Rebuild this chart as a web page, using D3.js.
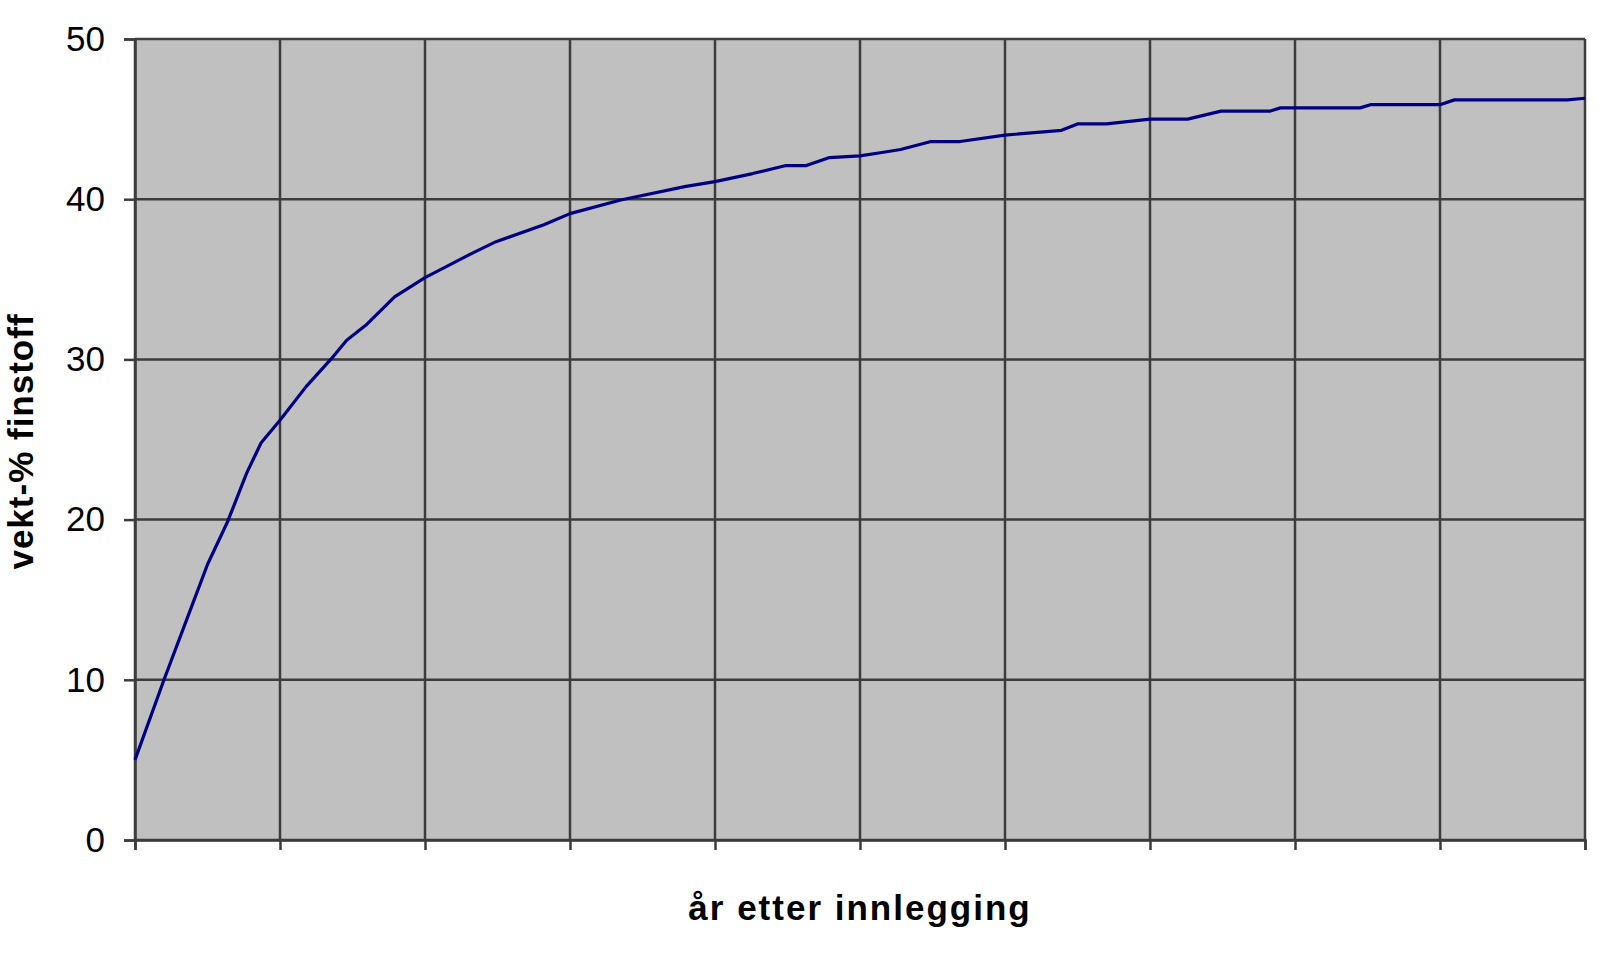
<!DOCTYPE html>
<html>
<head>
<meta charset="utf-8">
<script src="https://cdn.jsdelivr.net/npm/d3@7"></script>
<style>
  html, body { margin: 0; padding: 0; background: #fff; }
  svg { display: block; }
</style>
</head>
<body>
<svg id="chart" width="1600" height="960"></svg>
<script>
// x in grid units (each vertical gridline = 10), values in vekt-% finstoff
const years = [0, 2, 4, 5, 6.4, 7.7, 8.7, 10, 11.8, 13.5, 14.6, 16, 17.9, 20, 23.2, 24.9, 28.2, 30, 33.5, 38, 40, 42.6, 44.9, 46.3, 47.9, 50, 51.4, 52.8, 54.9, 56.9, 60, 63.9, 65, 67, 70, 72.6, 74.9, 78.3, 79, 84.5, 85.2, 90, 91, 98.8, 100];
const finstoff = [5.0, 10.0, 14.8, 17.2, 19.9, 22.9, 24.8, 26.2, 28.3, 30.0, 31.2, 32.2, 33.9, 35.1, 36.6, 37.35, 38.4, 39.1, 39.95, 40.8, 41.1, 41.6, 42.1, 42.1, 42.6, 42.7, 42.9, 43.1, 43.6, 43.6, 44.0, 44.3, 44.7, 44.7, 45.0, 45.0, 45.5, 45.5, 45.7, 45.7, 45.9, 45.9, 46.2, 46.2, 46.3];
const yTicks = [0, 10, 20, 30, 40, 50];
const xTicks = [0, 10, 20, 30, 40, 50, 60, 70, 80, 90, 100];
const yTitle = "vekt-% finstoff";
const xTitle = "år etter innlegging";

const svg = d3.select("#chart");
const mLeft = 135, mRight = 1585, mTop = 39, mBottom = 840;

const x = d3.scaleLinear().domain([0, 100]).range([mLeft, mRight]);
const y = d3.scaleLinear().domain([0, 50]).range([mBottom, mTop]);

// plot background
svg.append("rect")
  .attr("x", mLeft).attr("y", mTop)
  .attr("width", mRight - mLeft).attr("height", mBottom - mTop)
  .attr("fill", "#c0c0c0");

const gridColor = "#3c3c3c";

// horizontal gridlines
svg.append("g").selectAll("line").data(yTicks).join("line")
  .attr("x1", mLeft).attr("x2", mRight)
  .attr("y1", d => y(d)).attr("y2", d => y(d))
  .attr("stroke", gridColor).attr("stroke-width", 2.5);

// vertical gridlines
svg.append("g").selectAll("line").data(xTicks).join("line")
  .attr("x1", d => x(d)).attr("x2", d => x(d))
  .attr("y1", mTop).attr("y2", mBottom)
  .attr("stroke", gridColor).attr("stroke-width", 2.5);

// y axis
const yAxis = svg.append("g")
  .attr("transform", `translate(${mLeft},0)`)
  .call(d3.axisLeft(y).tickValues(yTicks).tickSize(11).tickPadding(19).tickFormat(d3.format("d")));
yAxis.select(".domain").attr("stroke", gridColor).attr("stroke-width", 2.5);
yAxis.selectAll(".tick line").attr("stroke", gridColor).attr("stroke-width", 2.5);
yAxis.selectAll(".tick text")
  .attr("fill", "#000")
  .style("font-family", "Arial, 'Liberation Sans', sans-serif")
  .style("font-size", "35px");

// x axis (ticks only, no labels)
const xAxis = svg.append("g")
  .attr("transform", `translate(0,${mBottom})`)
  .call(d3.axisBottom(x).tickValues(xTicks).tickSize(10).tickFormat(""));
xAxis.select(".domain").attr("stroke", gridColor).attr("stroke-width", 2.5);
xAxis.selectAll(".tick line").attr("stroke", gridColor).attr("stroke-width", 2.5);

// data line
const line = d3.line().x((d, i) => x(years[i])).y(d => y(d));
svg.append("path")
  .datum(finstoff)
  .attr("d", line)
  .attr("fill", "none")
  .attr("stroke", "#000080")
  .attr("stroke-width", 3.2)
  .attr("stroke-linejoin", "round");

// axis titles
svg.append("text")
  .attr("x", (mLeft + mRight) / 2)
  .attr("y", 920)
  .attr("text-anchor", "middle")
  .style("font-family", "Arial, 'Liberation Sans', sans-serif")
  .style("font-size", "35px")
  .style("font-weight", "bold")
  .style("letter-spacing", "2px")
  .attr("fill", "#000")
  .text(xTitle);

svg.append("text")
  .attr("transform", `translate(33,${(mTop + mBottom) / 2 + 2}) rotate(-90)`)
  .attr("text-anchor", "middle")
  .style("font-family", "Arial, 'Liberation Sans', sans-serif")
  .style("font-size", "35px")
  .style("font-weight", "bold")
  .style("letter-spacing", "1px")
  .attr("fill", "#000")
  .text(yTitle);
</script>
</body>
</html>
